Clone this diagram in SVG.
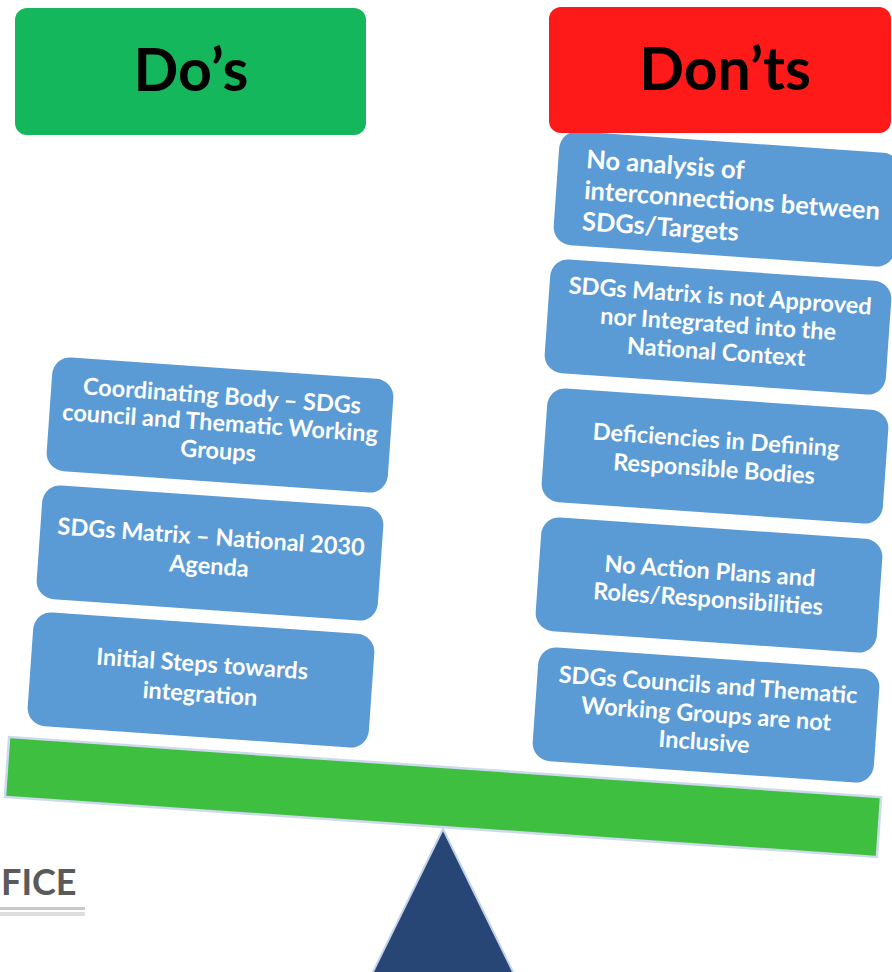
<svg xmlns="http://www.w3.org/2000/svg" width="892" height="972" viewBox="0 0 892 972">
<style>
.box{fill:#5b9bd5;}
.bt{font-family:Lato,"Liberation Sans",sans-serif;font-weight:bold;font-size:23.5px;fill:#ffffff;text-anchor:middle;}
.ht{font-family:Lato,"Liberation Sans",sans-serif;font-weight:bold;font-size:59px;fill:#000000;text-anchor:middle;}
</style>
<rect width="892" height="972" fill="#ffffff"/>
<g id="fulcrum"><polygon points="443,829 369,980 517,980" fill="#284675" stroke="#c3d3ea" stroke-width="2"/></g>
<g id="beam"><rect x="-437" y="-30" width="874" height="60" transform="translate(443,797) rotate(3.95)" fill="#3fbf3f" stroke="#cdd9ec" stroke-width="2.5"/></g>
<g id="office"><text x="1" y="895" font-family="Lato,'Liberation Sans',sans-serif" font-weight="bold" font-size="36" fill="#5a5a5a">FICE</text><rect x="0" y="907" width="85" height="3" fill="#c8c8c8"/><rect x="0" y="912" width="85" height="4" fill="#dedede"/></g>
<g id="do1" transform="translate(220,425) rotate(4)"><rect class="box" x="-171" y="-57" width="342" height="114" rx="18"/><text class="bt"><tspan x="0" y="-21">Coordinating Body – SDGs</tspan><tspan x="0" y="6">council and Thematic Working</tspan><tspan x="0" y="34">Groups</tspan></text></g>
<g id="do2" transform="translate(210,553) rotate(4)"><rect class="box" x="-171" y="-57" width="342" height="114" rx="18"/><text class="bt"><tspan x="0" y="-8">SDGs Matrix – National 2030</tspan><tspan x="0" y="21">Agenda</tspan></text></g>
<g id="do3" transform="translate(201,680) rotate(4)"><rect class="box" x="-171" y="-57" width="342" height="114" rx="18"/><text class="bt"><tspan x="0" y="-8">Initial Steps towards</tspan><tspan x="0" y="22">integration</tspan></text></g>
<g id="dont1" transform="translate(727,199) rotate(4)"><rect class="box" x="-171" y="-57" width="342" height="114" rx="18"/><text class="bt" style="text-anchor:start;font-size:25.5px"><tspan x="-143" y="-21">No analysis of</tspan><tspan x="-143" y="10">interconnections between</tspan><tspan x="-143" y="41">SDGs/Targets</tspan></text></g>
<g id="dont2" transform="translate(718,327) rotate(4)"><rect class="box" x="-171" y="-57" width="342" height="114" rx="18"/><text class="bt"><tspan x="0" y="-23">SDGs Matrix is not Approved</tspan><tspan x="0" y="5">nor Integrated into the</tspan><tspan x="0" y="33">National Context</tspan></text></g>
<g id="dont3" transform="translate(715,456) rotate(4)"><rect class="box" x="-171" y="-57" width="342" height="114" rx="18"/><text class="bt"><tspan x="0" y="-8">Deficiencies in Defining</tspan><tspan x="0" y="21">Responsible Bodies</tspan></text></g>
<g id="dont4" transform="translate(709,585) rotate(4)"><rect class="box" x="-171" y="-57" width="342" height="114" rx="18"/><text class="bt"><tspan x="0" y="-6">No Action Plans and</tspan><tspan x="0" y="22">Roles/Responsibilities</tspan></text></g>
<g id="dont5" transform="translate(706,715) rotate(4)"><rect class="box" x="-171" y="-57" width="342" height="114" rx="18"/><text class="bt"><tspan x="0" y="-22">SDGs Councils and Thematic</tspan><tspan x="0" y="7">Working Groups are not</tspan><tspan x="0" y="35">Inclusive</tspan></text></g>
<g id="dos-header"><rect x="15" y="8" width="351" height="127" rx="12" fill="#15b75c"/><text class="ht" x="191" y="91">Do’s</text></g>
<g id="donts-header"><rect x="549" y="7" width="342" height="126" rx="12" fill="#ff1a1a"/><text class="ht" x="725" y="90">Don’ts</text></g>
</svg>
